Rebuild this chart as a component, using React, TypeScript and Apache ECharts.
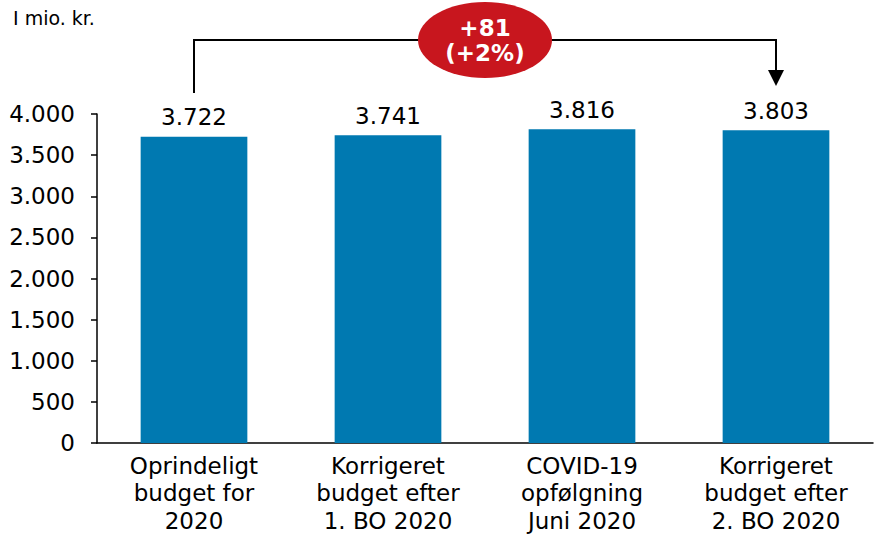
import React, { useEffect, useRef } from "react";
import * as echarts from "echarts";

const categories = [
  "Oprindeligt\nbudget for\n2020",
  "Korrigeret\nbudget efter\n1. BO 2020",
  "COVID-19\nopfølgning\nJuni 2020",
  "Korrigeret\nbudget efter\n2. BO 2020",
];
const values = [3722, 3741, 3816, 3803];
const yTicks = { min: 0, max: 4000, interval: 500 };
const unitLabel = "I mio. kr.";
const changeText = ["+81", "(+2%)"];

const FONT = "'DejaVu Sans', Verdana, sans-serif";
const BAR = "#0079B1";
const RED = "#C8161E";

const fmt = (v: number) => {
  const s = Math.round(v).toString();
  return s.replace(/\B(?=(\d{3})+(?!\d))/g, ".");
};

export default function App() {
  const ref = useRef<HTMLDivElement>(null);
  useEffect(() => {
    if (!ref.current) return;
    const chart = echarts.init(ref.current, undefined, {
      renderer: "svg",
      width: 875,
      height: 535,
    });
    chart.setOption({
      animation: false,
      backgroundColor: "#ffffff",
      grid: {
        left: 97,
        right: 2,
        top: 114,
        bottom: 92,
        containLabel: false,
        outerBoundsMode: "none",
      },
      xAxis: {
        type: "category",
        data: categories,
        axisLine: { show: true, lineStyle: { color: "#000", width: 1.5 } },
        axisTick: { show: false },
        axisLabel: {
          color: "#000",
          fontFamily: FONT,
          fontSize: 23,
          lineHeight: 27.5,
          margin: 9,
          interval: 0,
        },
      },
      yAxis: {
        type: "value",
        min: yTicks.min,
        max: yTicks.max,
        interval: yTicks.interval,
        splitLine: { show: false },
        axisLine: { show: true, lineStyle: { color: "#000", width: 1.5 } },
        axisTick: { show: true, inside: false, length: 6, lineStyle: { color: "#000", width: 1.5 } },
        axisLabel: {
          color: "#000",
          fontFamily: FONT,
          fontSize: 23,
          margin: 22,
          formatter: (v: number) => fmt(v),
        },
      },
      series: [
        {
          type: "bar",
          data: values,
          barWidth: "55%",
          itemStyle: { color: BAR },
          label: {
            show: true,
            position: "top",
            distance: 8,
            color: "#000",
            fontFamily: FONT,
            fontSize: 23,
            formatter: (p: any) => fmt(p.value),
          },
        },
      ],
    });

    const x0 = chart.convertToPixel({ gridIndex: 0 }, [0, 0])[0];
    const x3 = chart.convertToPixel({ gridIndex: 0 }, [3, 0])[0];
    const yTop = 40;
    const mid = (x0 + x3) / 2;

    chart.setOption({
      graphic: [
        {
          type: "text",
          left: 13,
          top: 8,
          style: { text: unitLabel, fontFamily: FONT, fontSize: 19, fill: "#000" },
        },
        {
          type: "polyline",
          shape: { points: [[x0, 93], [x0, yTop], [x3, yTop], [x3, 72]] },
          style: { stroke: "#000", lineWidth: 2, fill: "none" },
        },
        {
          type: "polygon",
          shape: { points: [[x3 - 8, 70], [x3 + 8, 70], [x3, 86]] },
          style: { fill: "#000" },
        },
        {
          type: "ellipse",
          shape: { cx: mid, cy: yTop, rx: 67, ry: 38 },
          style: { fill: RED },
        },
        {
          type: "text",
          x: mid,
          y: yTop - 12.5,
          style: {
            text: changeText[0],
            fontFamily: FONT,
            fontSize: 23,
            fontWeight: "bold",
            fill: "#fff",
            align: "center",
            verticalAlign: "middle",
          },
        },
        {
          type: "text",
          x: mid,
          y: yTop + 12.5,
          style: {
            text: changeText[1],
            fontFamily: FONT,
            fontSize: 23,
            fontWeight: "bold",
            fill: "#fff",
            align: "center",
            verticalAlign: "middle",
          },
        },
      ],
    });

    return () => chart.dispose();
  }, []);
  return (
    <div
      ref={ref}
      style={{ position: "fixed", left: 0, top: 0, width: 875, height: 535 }}
    />
  );
}
